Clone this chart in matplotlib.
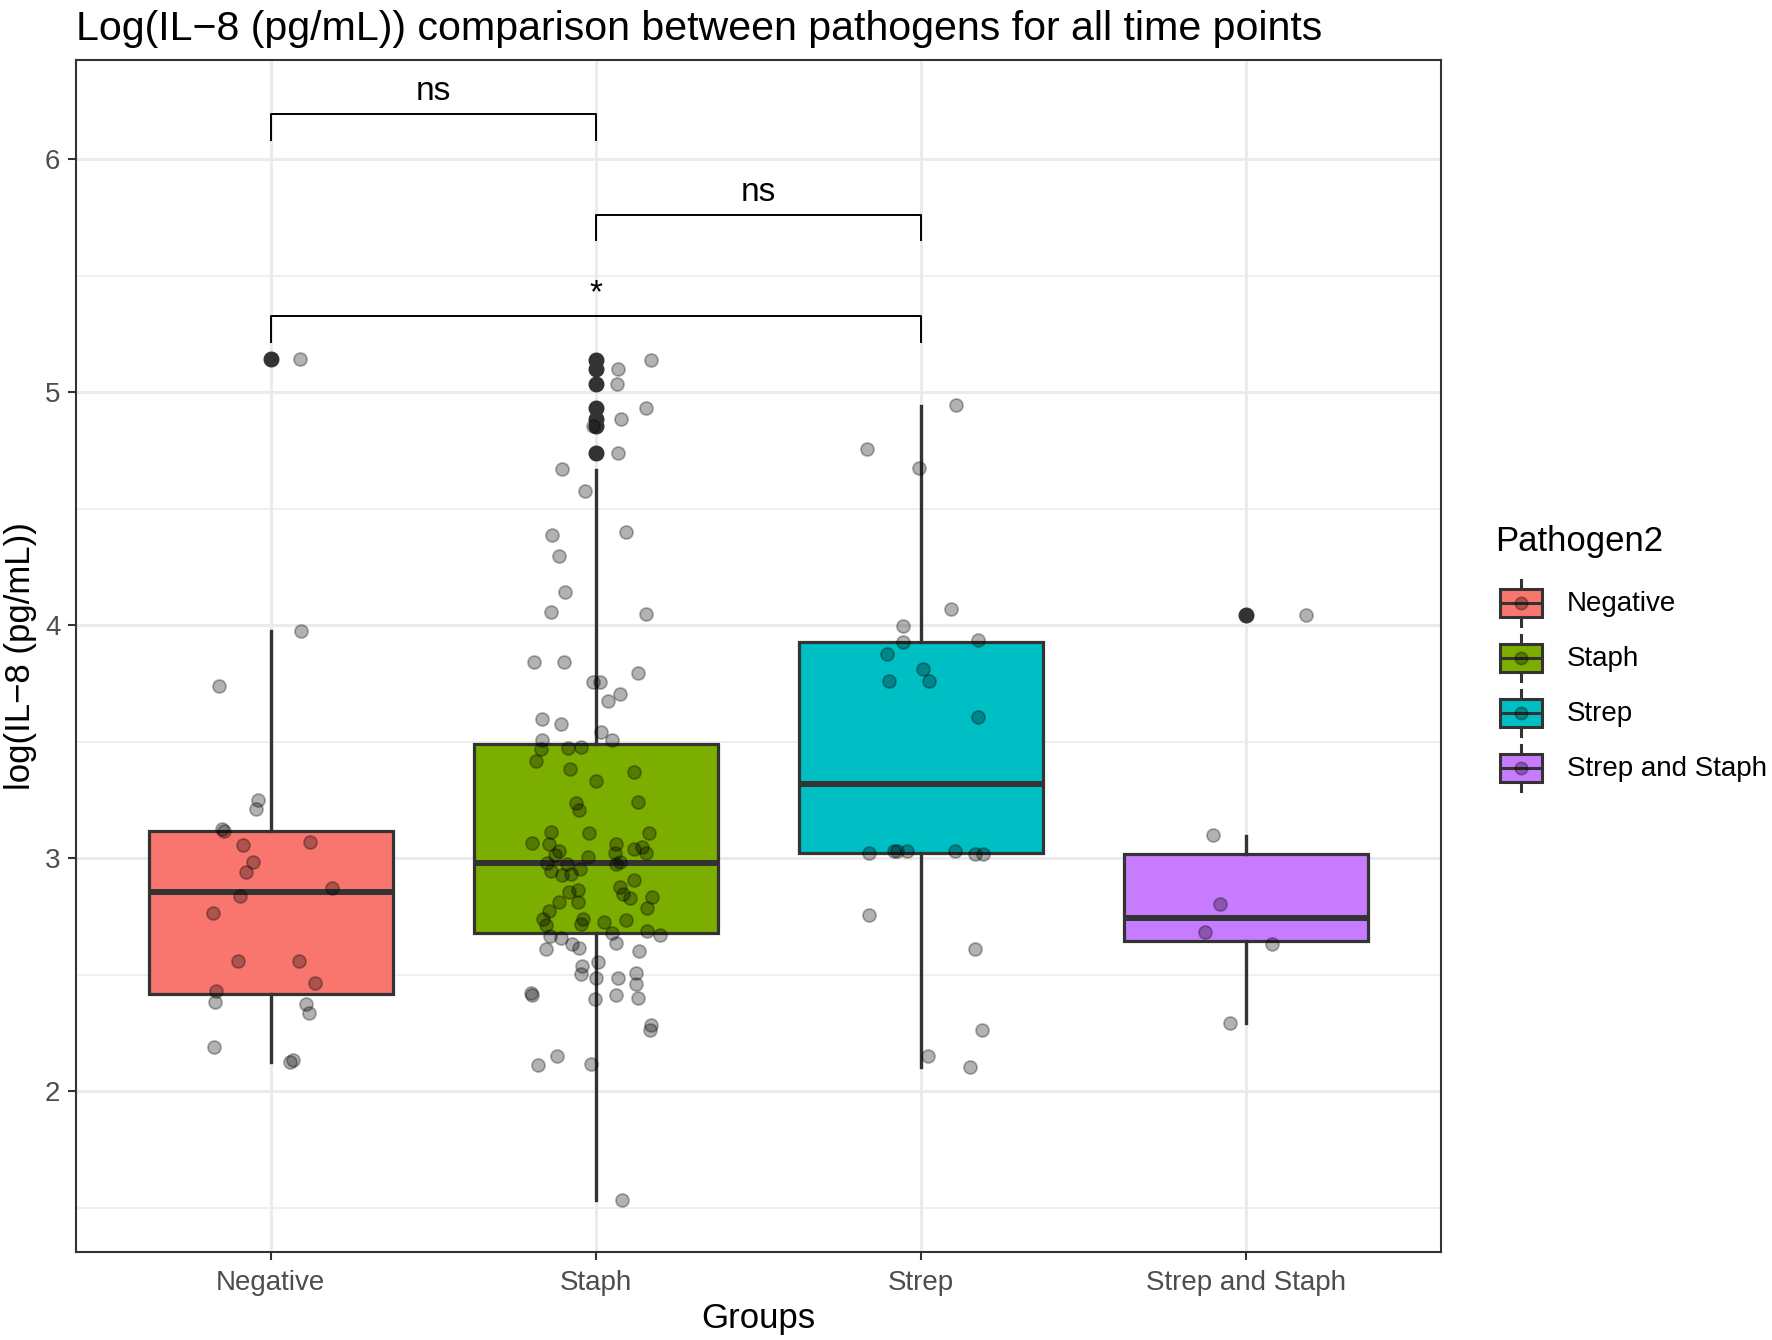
import matplotlib
matplotlib.use('Agg')
from matplotlib import pyplot as plt
from matplotlib.patches import Rectangle

plt.rcParams['font.family'] = ['Liberation Sans', 'DejaVu Sans']

groups = ['Negative', 'Staph', 'Strep', 'Strep and Staph']
colors = ['#F8766D', '#7CAE00', '#00BFC4', '#C77CFF']

# box statistics
whis_lo = [2.127, 1.535, 2.104, 2.293]
q1 = [2.419, 2.681, 3.023, 2.646]
med = [2.857, 2.980, 3.319, 2.743]
q3 = [3.117, 3.491, 3.927, 3.021]
whis_hi = [3.977, 4.669, 4.943, 3.096]
outliers = [[5.145],
            [5.140, 5.100, 5.034, 4.933, 4.886, 4.854, 4.739],
            [],
            [4.044]]

# jittered observations: value and horizontal jitter
neg_vals = [5.145, 3.977, 3.742, 3.250, 3.210, 3.126, 3.117, 3.059, 3.069, 2.984,
            2.940, 2.874, 2.839, 2.766, 2.560, 2.560, 2.467, 2.431, 2.383, 2.374,
            2.337, 2.189, 2.127, 2.134]
neg_jit = [0.091, 0.092, -0.159, -0.039, -0.044, -0.151, -0.144, -0.084, 0.121, -0.054,
           -0.077, 0.188, -0.096, -0.178, -0.102, 0.087, 0.136, -0.168, -0.170, 0.110,
           0.117, -0.173, 0.058, 0.068]

staph_vals = [5.140, 5.101, 5.034, 4.933, 4.886, 4.854, 4.739, 4.671, 4.577, 4.399,
              4.386, 4.300, 4.143, 4.057, 4.049, 3.844, 3.844, 3.794, 3.759, 3.759,
              3.707, 3.674, 3.600, 3.577, 3.544, 3.510, 3.509, 3.469, 3.474, 3.479,
              3.417, 3.383, 3.371, 3.331, 3.239, 3.206, 3.240, 3.114, 3.110, 3.110,
              3.066, 3.064, 3.030, 3.060, 3.024, 3.039, 3.051, 3.024, 3.014, 3.007,
              2.979, 2.974, 2.974, 2.983, 2.944, 2.956, 2.927, 2.933, 2.906, 2.856,
              2.864, 2.879, 2.846, 2.829, 2.836, 2.813, 2.814, 2.787, 2.776, 2.740,
              2.714, 2.739, 2.719, 2.727, 2.734, 2.689, 2.673, 2.679, 2.669, 2.659,
              2.634, 2.614, 2.636, 2.611, 2.601, 2.554, 2.539, 2.506, 2.486, 2.486,
              2.507, 2.461, 2.421, 2.414, 2.396, 2.414, 2.400, 2.286, 2.263, 2.153,
              2.114, 2.119, 1.535]
staph_jit = [0.170, 0.069, 0.065, 0.155, 0.079, -0.009, 0.068, -0.105, -0.033, 0.092,
             -0.136, -0.114, -0.096, -0.137, 0.155, -0.191, -0.098, 0.130, -0.009, 0.013,
             0.076, 0.038, -0.164, -0.107, 0.017, 0.051, -0.164, -0.169, -0.086, -0.045,
             -0.184, -0.080, 0.119, 0.002, -0.062, -0.052, 0.130, -0.137, -0.022, 0.165,
             -0.196, -0.145, -0.112, 0.063, 0.058, 0.118, 0.143, 0.153, -0.126, -0.023,
             -0.149, -0.090, 0.061, 0.073, -0.137, -0.050, -0.104, -0.077, 0.119, -0.083,
             -0.056, 0.073, 0.083, 0.106, 0.174, -0.114, -0.054, 0.157, -0.143, -0.163,
             -0.153, -0.040, -0.044, 0.024, 0.092, 0.157, 0.196, 0.050, -0.141, -0.107,
             -0.074, -0.053, 0.061, -0.153, 0.132, 0.006, -0.042, -0.047, 0.001, 0.068,
             0.125, 0.125, -0.198, -0.196, -0.002, 0.063, 0.131, 0.170, 0.167, -0.120,
             -0.177, -0.016, 0.080]

strep_vals = [4.944, 4.757, 4.677, 4.070, 3.999, 3.927, 3.936, 3.877, 3.811, 3.760,
              3.760, 3.605, 3.024, 3.033, 3.033, 3.033, 3.033, 3.021, 3.019, 2.757,
              2.610, 2.264, 2.151, 2.104]
strep_jit = [0.109, -0.166, -0.006, 0.093, -0.054, -0.054, 0.175, -0.103, 0.008, -0.097,
             0.026, 0.175, -0.161, -0.082, -0.072, -0.042, 0.105, 0.167, 0.192, -0.160,
             0.167, 0.187, 0.023, 0.151]

both_vals = [4.044, 3.099, 2.804, 2.684, 2.634, 2.293]
both_jit = [0.184, -0.102, -0.080, -0.126, 0.081, -0.049]

# significance brackets
sig_pairs = [(0, 1), (1, 2), (0, 2)]
sig_y = [6.194, 5.762, 5.326]
sig_labels = ['ns', 'ns', '*']
tip = 0.11

W, H = 1772, 1340
fig = plt.figure(figsize=(W / 100, H / 100), dpi=100)
ax = fig.add_axes([0.0427, 0.0657, 0.7705, 0.8896])

edge = '#333333'
stats = []
for i in range(len(groups)):
    stats.append({'whislo': whis_lo[i], 'q1': q1[i], 'med': med[i], 'q3': q3[i],
                  'whishi': whis_hi[i], 'fliers': outliers[i], 'label': groups[i]})
bp = ax.bxp(stats, positions=range(1, 5), widths=0.75, patch_artist=True,
            showcaps=False,
            boxprops=dict(edgecolor=edge, linewidth=2.3),
            medianprops=dict(color=edge, linewidth=4.3, solid_capstyle='butt'),
            whiskerprops=dict(color=edge, linewidth=2.4),
            flierprops=dict(marker='o', markerfacecolor=edge, markeredgecolor=edge,
                            markersize=10.5))
for patch, c in zip(bp['boxes'], colors):
    patch.set_facecolor(c)
for part in bp['boxes'] + bp['medians'] + bp['whiskers'] + bp['fliers']:
    part.set_zorder(2)

all_vals = [neg_vals, staph_vals, strep_vals, both_vals]
all_jit = [neg_jit, staph_jit, strep_jit, both_jit]
for i, (vals, jit) in enumerate(zip(all_vals, all_jit)):
    xs = [i + 1 + j for j in jit]
    ax.scatter(xs, vals, s=88, color='black', alpha=0.3, edgecolors='black',
               linewidths=1.3, zorder=3)

# brackets
for (a, b), y, lab in zip(sig_pairs, sig_y, sig_labels):
    ax.plot([a + 1, a + 1, b + 1, b + 1], [y - tip, y, y, y - tip],
            color='black', linewidth=1.4, zorder=4)
    ax.text((a + b) / 2 + 1, y + 0.03, lab, ha='center', va='bottom', fontsize=24)

ax.set_xlim(0.4, 4.6)
ax.set_ylim(1.311, 6.427)
ax.set_xticks(range(1, 5))
ax.set_xticklabels(groups)
ax.set_yticks([2, 3, 4, 5, 6])
ax.set_yticks([1.5, 2.5, 3.5, 4.5, 5.5], minor=True)
ax.grid(which='major', color='#EBEBEB', linewidth=2.2, zorder=0)
ax.grid(which='minor', axis='y', color='#EBEBEB', linewidth=1.1, zorder=0)
ax.set_axisbelow(True)
ax.tick_params(which='major', length=6, width=1.5, color=edge, labelcolor='#4D4D4D',
               labelsize=20, pad=5)
ax.tick_params(axis='x', which='major', pad=7)
ax.tick_params(which='minor', length=0)
for sp in ax.spines.values():
    sp.set_color(edge)
    sp.set_linewidth(1.5)

ax.set_xlabel('Groups', fontsize=25)
ax.xaxis.set_label_coords(0.5, -0.0554)
ax.xaxis.label.set_va('center')
ax.set_ylabel('log(IL\u22128 (pg/mL))', fontsize=25)
ax.yaxis.set_label_coords(-0.0405, 0.5)
ax.yaxis.label.set_va('center')
ax.set_title('Log(IL\u22128 (pg/mL)) comparison between pathogens for all time points',
             loc='left', fontsize=29.6, pad=14)

# legend drawn in figure pixels
lax = fig.add_axes([0, 0, 1, 1])
lax.set_xlim(0, W)
lax.set_ylim(H, 0)
lax.axis('off')
lax.text(1495, 542, 'Pathogen2', fontsize=25, va='center', ha='left')
key_y = [603, 658, 713, 768]
for yc, c, g in zip(key_y, colors, groups):
    lax.plot([1521.5, 1521.5], [yc - 23, yc + 23], color=edge, linewidth=2.2)
    lax.add_patch(Rectangle((1500.5, yc - 14), 42, 28, facecolor=c, edgecolor=edge,
                            linewidth=2.2, zorder=2))
    lax.plot([1500.5, 1542.5], [yc, yc], color=edge, linewidth=2.2, zorder=3)
    lax.scatter([1521.5], [yc], s=80, color='black', alpha=0.3, edgecolors='black',
                linewidths=1.3, zorder=4)
    lax.text(1567, yc + 1, g, fontsize=20, va='center', ha='left')

fig.savefig('out.png', dpi=100)
